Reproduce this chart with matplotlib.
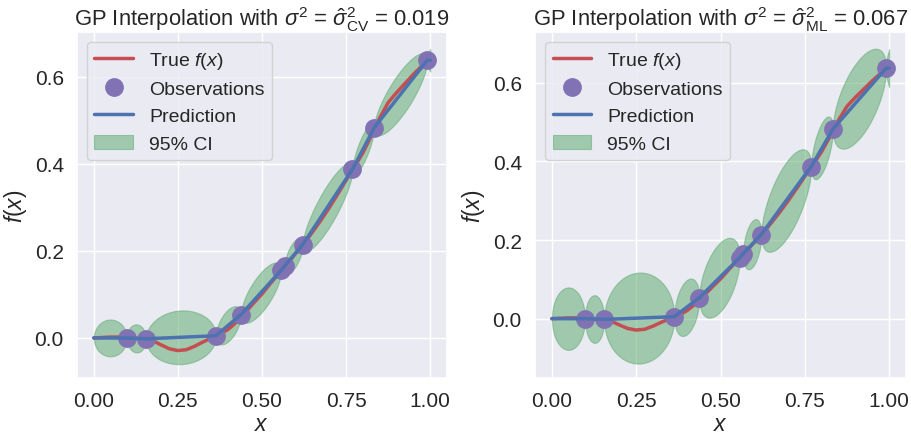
import numpy as np
import matplotlib
matplotlib.use("Agg")
import matplotlib.pyplot as plt
import seaborn as sns

# ---- data ----
obs_x = [0.098, 0.155, 0.363, 0.437, 0.557, 0.567, 0.621, 0.769, 0.833, 0.991]
obs_y = [0.000, -0.002, 0.005, 0.053, 0.155, 0.165, 0.214, 0.387, 0.482, 0.637]

true_x = [0.000, 0.025, 0.050, 0.075, 0.100, 0.125, 0.150, 0.175, 0.200, 0.225,
          0.250, 0.275, 0.300, 0.325, 0.350, 0.375, 0.400, 0.425, 0.450, 0.475,
          0.500, 0.525, 0.550, 0.575, 0.600, 0.625, 0.650, 0.675, 0.700, 0.725,
          0.750, 0.775, 0.800, 0.825, 0.850, 0.875, 0.900, 0.925, 0.950, 0.975, 1.000]
true_y = [0.000, 0.001, 0.002, 0.002, 0.000, -0.001, -0.002, -0.006, -0.016, -0.025,
          -0.029, -0.027, -0.019, -0.009, 0.000, 0.008, 0.020, 0.037, 0.058, 0.080,
          0.101, 0.125, 0.148, 0.170, 0.194, 0.217, 0.243, 0.270, 0.299, 0.330,
          0.362, 0.393, 0.425, 0.464, 0.505, 0.540, 0.563, 0.584, 0.605, 0.624, 0.645]

sigma2_values = [0.019, 0.067]
titles = [r"GP Interpolation with $\sigma^2$ = $\hat{\sigma}^2_{\mathrm{CV}}$ = 0.019",
          r"GP Interpolation with $\sigma^2$ = $\hat{\sigma}^2_{\mathrm{ML}}$ = 0.067"]
ylims = [(-0.092, 0.702), (-0.151, 0.729)]
xticks = [0.00, 0.25, 0.50, 0.75, 1.00]
yticks = [0.0, 0.2, 0.4, 0.6]

sns.set_theme(style="darkgrid")
plt.rcParams['font.family'] = ['Liberation Sans', 'DejaVu Sans']
plt.rcParams['mathtext.fontset'] = 'custom'
plt.rcParams['mathtext.rm'] = 'Liberation Sans'
plt.rcParams['mathtext.it'] = 'Liberation Sans:italic'
plt.rcParams['mathtext.bf'] = 'Liberation Sans:bold'

red = "#C44E52"
blue = "#4C72B0"
purple = "#8172B3"
green = "#55A868"


def brownian_posterior(xs, X, Y, s2):
    X = np.asarray(X)
    Y = np.asarray(Y)
    K = s2 * np.minimum.outer(X, X)
    Ks = s2 * np.minimum.outer(xs, X)
    Kinv = np.linalg.inv(K)
    mean = Ks @ Kinv @ Y
    var = s2 * xs - np.einsum('ij,jk,ik->i', Ks, Kinv, Ks)
    var = np.clip(var, 0, None)
    return mean, np.sqrt(var)


xs = np.linspace(0, 1, 1001)

fig = plt.figure(figsize=(9.11, 4.35), dpi=100)
positions = [[0.0845, 0.1287, 0.4062, 0.7953], [0.5873, 0.1287, 0.4072, 0.7953]]

for i, s2 in enumerate(sigma2_values):
    ax = fig.add_axes(positions[i])
    mean, sd = brownian_posterior(xs, obs_x, obs_y, s2)
    ax.plot(true_x, true_y, color=red, lw=2.5, label=r"True $f(x)$", zorder=3)
    ax.plot(obs_x, obs_y, 'o', color=purple, ms=12.5, label="Observations", zorder=4)
    ax.plot(xs, mean, color=blue, lw=2.5, label="Prediction", zorder=5)
    ax.fill_between(xs, mean - 1.96 * sd, mean + 1.96 * sd, color=green,
                    alpha=0.5, label="95% CI", zorder=2, linewidth=0.8)
    ax.set_xlim(-0.05, 1.05)
    ax.set_ylim(*ylims[i])
    ax.set_xticks(xticks)
    ax.set_yticks(yticks)
    ax.tick_params(labelsize=15)
    ax.set_xlabel(r"$x$", fontsize=16.5, labelpad=1)
    ax.set_ylabel(r"$f(x)$", fontsize=16.5)
    ax.set_title(titles[i], fontsize=15.8, pad=5)
    ax.legend(loc="upper left", fontsize=14, framealpha=0.8)

fig.savefig("out.png", dpi=100)
